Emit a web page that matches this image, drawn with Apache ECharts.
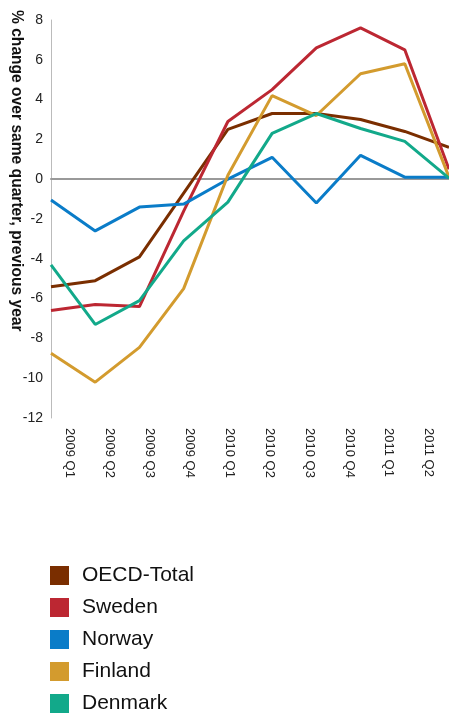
<!DOCTYPE html>
<html>
<head>
<meta charset="utf-8">
<script src="https://cdn.jsdelivr.net/npm/echarts@6/dist/echarts.min.js"></script>
<style>html,body{margin:0;padding:0;background:#fff}#c{width:449px;height:715px}</style>
</head>
<body>
<div id="c"></div>
<script>
const categories = ['2009 Q1','2009 Q2','2009 Q3','2009 Q4','2010 Q1','2010 Q2','2010 Q3','2010 Q4','2011 Q1','2011 Q2'];
const oecdTotal = [-5.4, -5.1, -3.9, -0.7, 2.5, 3.3, 3.3, 3.0, 2.4, 1.6];
const sweden    = [-6.6, -6.3, -6.4, -1.6, 2.9, 4.5, 6.6, 7.6, 6.5, 0.5];
const norway    = [-1.05, -2.6, -1.4, -1.25, 0.0, 1.1, -1.2, 1.2, 0.1, 0.1];
const finland   = [-8.75, -10.2, -8.45, -5.5, 0.2, 4.2, 3.2, 5.3, 5.8, 0.1];
const denmark   = [-4.3, -7.3, -6.1, -3.1, -1.15, 2.3, 3.3, 2.55, 1.9, 0.05];
const seriesNames = ['OECD-Total','Sweden','Norway','Finland','Denmark'];
const yTicks = {min: -12, max: 8, interval: 2};
const axisTitle = '% change over same quarter, previous year';

const colors = ['#7a2e00','#bc2732','#0a7cc8','#d39b2e','#12a98a'];
const font = 'Liberation Sans, Arial, Helvetica, sans-serif';
const values = [oecdTotal, sweden, norway, finland, denmark];

const chart = echarts.init(document.getElementById('c'), null, {renderer:'canvas'});
chart.setOption({
  animation: false,
  color: colors,
  textStyle: {fontFamily: font},
  grid: [
    {left: 51, top: 20, width: 405, height: 398},
    {left: 49.5, top: 20, width: 410, height: 398}
  ],
  xAxis: [
    {type:'category', gridIndex:0, data: categories, boundaryGap:false,
     axisLine:{show:true, onZero:true, lineStyle:{color:'#999', width:2}},
     axisTick:{show:false}, axisLabel:{show:false}, splitLine:{show:false}},
    {type:'category', gridIndex:1, data: categories, boundaryGap:true,
     axisLine:{show:false}, axisTick:{show:false}, splitLine:{show:false},
     axisLabel:{rotate:-90, margin:10, fontSize:13, color:'#222', fontFamily: font, interval:0}}
  ],
  yAxis: [
    {type:'value', gridIndex:0, min:yTicks.min, max:yTicks.max, interval:yTicks.interval,
     axisLine:{show:true, lineStyle:{color:'#bbb', width:1}}, axisTick:{show:false},
     splitLine:{show:false},
     axisLabel:{fontSize:14, color:'#222', margin:8, fontFamily: font}},
    {type:'value', gridIndex:1, min:yTicks.min, max:yTicks.max, show:false}
  ],
  legend: {
    orient:'vertical', left:50, top:565, height:160, padding:0,
    itemWidth:19, itemHeight:19, itemGap:11,
    icon:'rect', data: seriesNames,
    textStyle:{fontSize:21, color:'#111', fontFamily: font, padding:[0,0,0,8]}
  },
  graphic: [{
    type:'text', x:16, y:10, rotation:-Math.PI/2,
    style:{text: axisTitle, font:'bold 15.6px ' + font, fill:'#111', textAlign:'left', textVerticalAlign:'middle'}
  }],
  series: seriesNames.map((n,i)=>({
    name:n, type:'line', xAxisIndex:0, yAxisIndex:0, data: values[i],
    symbol:'none', lineStyle:{width:3, color:colors[i]}, itemStyle:{color:colors[i]},
    clip:false
  }))
});
</script>
</body>
</html>
